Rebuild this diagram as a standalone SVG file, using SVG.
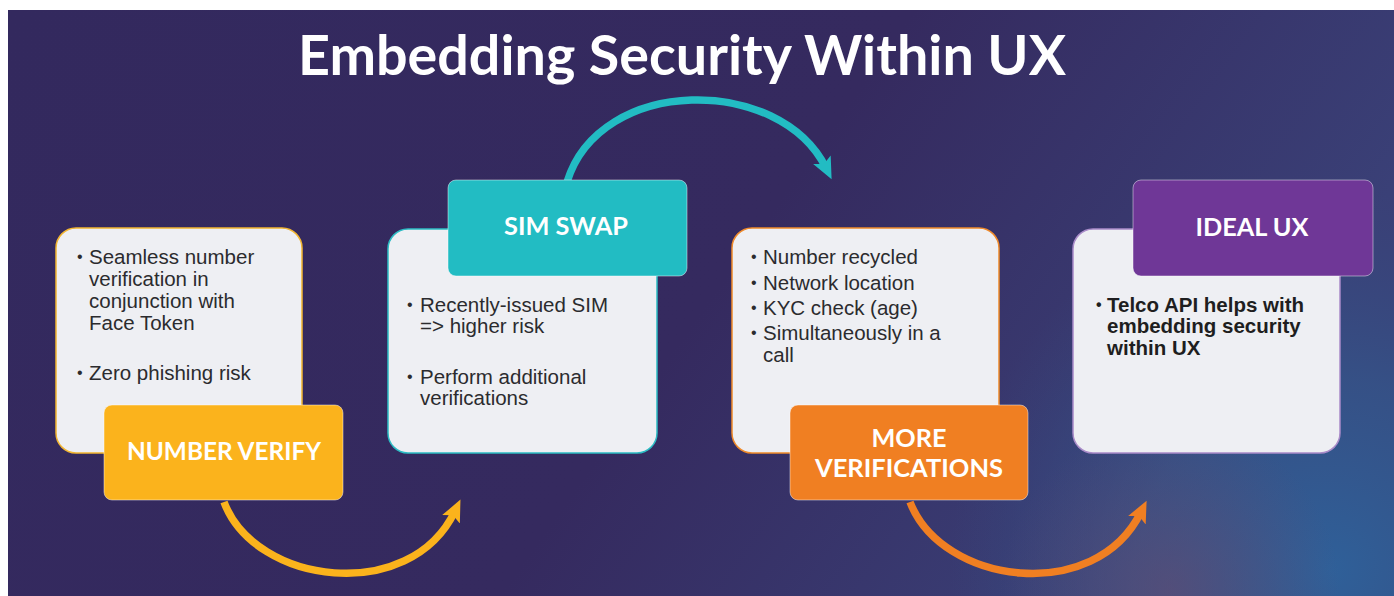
<svg xmlns="http://www.w3.org/2000/svg" width="1394" height="596" viewBox="0 0 1394 596">
  <defs>
    <linearGradient id="bg" x1="0" y1="0" x2="1" y2="0.3">
      <stop offset="0" stop-color="#33295e"/>
      <stop offset="0.6" stop-color="#352a5f"/>
      <stop offset="1" stop-color="#3a4077"/>
    </linearGradient>
    <radialGradient id="glowBlue" cx="1330" cy="570" r="380" gradientUnits="userSpaceOnUse">
      <stop offset="0" stop-color="#2f6099" stop-opacity="1"/>
      <stop offset="0.5" stop-color="#34568b" stop-opacity="0.75"/>
      <stop offset="1" stop-color="#364a80" stop-opacity="0"/>
    </radialGradient>
    <radialGradient id="glowPink" cx="1170" cy="590" r="170" gradientUnits="userSpaceOnUse">
      <stop offset="0" stop-color="#6a4a6e" stop-opacity="0.55"/>
      <stop offset="1" stop-color="#6a4a6e" stop-opacity="0"/>
    </radialGradient>
    <marker id="ahY" viewBox="0 0 20 20" markerWidth="23" markerHeight="23" refX="8" refY="10" orient="auto" markerUnits="userSpaceOnUse">
      <path d="M0,1.5 L19,10 L0,18.5 L4,10 z" fill="#fbb31c"/>
    </marker>
    <marker id="ahT" viewBox="0 0 20 20" markerWidth="23" markerHeight="23" refX="8" refY="10" orient="auto" markerUnits="userSpaceOnUse">
      <path d="M0,1.5 L19,10 L0,18.5 L4,10 z" fill="#22bcc3"/>
    </marker>
    <marker id="ahO" viewBox="0 0 20 20" markerWidth="23" markerHeight="23" refX="8" refY="10" orient="auto" markerUnits="userSpaceOnUse">
      <path d="M0,1.5 L19,10 L0,18.5 L4,10 z" fill="#f07f22"/>
    </marker>
  </defs>
  <style>
    .card { fill: #eeeff3; stroke-width: 1.5; }
    .lbl { stroke: rgba(255,255,255,0.45); stroke-width: 1; }
    .body { font-family: "Liberation Sans", Arial, sans-serif; font-size: 20.5px; fill: #2b2b2e; }
    .bul { font-family: "Liberation Sans", Arial, sans-serif; font-size: 16px; fill: #2b2b2e; }
    .bold { font-weight: bold; fill: #1e1e20; }
    .ltxt { font-family: Lato, "Open Sans", sans-serif; font-weight: 700; font-size: 25px; fill: #ffffff; text-anchor: middle; }
    .title { font-family: Lato, "Open Sans", sans-serif; font-weight: 700; font-size: 56px; fill: #ffffff; }
    .conn { fill: none; stroke-width: 7.5; stroke-linecap: butt; }
  </style>

  <rect x="0" y="0" width="1394" height="596" fill="#ffffff"/>
  <rect x="8" y="10" width="1386" height="586" fill="url(#bg)"/>
  <rect x="8" y="10" width="1386" height="586" fill="url(#glowBlue)"/>
  <rect x="8" y="10" width="1386" height="586" fill="url(#glowPink)"/>

  <text class="title" x="298" y="75" textLength="768" lengthAdjust="spacingAndGlyphs">Embedding Security Within UX</text>

  <g id="connectors">
    <path class="conn" stroke="#fbb31c" d="M224,502 C255,585 410,605 455,511" marker-end="url(#ahY)"/>
    <path class="conn" stroke="#22bcc3" d="M567,182 C600,75 780,75 826,168" marker-end="url(#ahT)"/>
    <path class="conn" stroke="#f07f22" d="M910,502 C942,585 1095,605 1141,512" marker-end="url(#ahO)"/>
  </g>

  <g id="node-number-verify">
    <rect class="card" x="56" y="228" width="246" height="225" rx="20" stroke="#f2b531"/>
    <text class="bul" x="77" y="262">•</text>
    <text class="body" x="89" y="264">Seamless number</text>
    <text class="body" x="89" y="286">verification in</text>
    <text class="body" x="89" y="308">conjunction with</text>
    <text class="body" x="89" y="330">Face Token</text>
    <text class="bul" x="77" y="378">•</text>
    <text class="body" x="89" y="380">Zero phishing risk</text>
    <rect class="lbl" x="104" y="405" width="239" height="95" rx="8" fill="#fbb31c"/>
    <text class="ltxt" x="224" y="460" textLength="194" lengthAdjust="spacingAndGlyphs">NUMBER VERIFY</text>
  </g>

  <g id="node-sim-swap">
    <rect class="card" x="388" y="229" width="269" height="224" rx="20" stroke="#2bbcc4"/>
    <text class="bul" x="407" y="310">•</text>
    <text class="body" x="420" y="312">Recently-issued SIM</text>
    <text class="body" x="420" y="333">=&gt; higher risk</text>
    <text class="bul" x="407" y="382">•</text>
    <text class="body" x="420" y="384">Perform additional</text>
    <text class="body" x="420" y="405">verifications</text>
    <rect class="lbl" x="448" y="180" width="239" height="96" rx="8" fill="#22bcc3"/>
    <text class="ltxt" x="566" y="235" textLength="124" lengthAdjust="spacingAndGlyphs">SIM SWAP</text>
  </g>

  <g id="node-more-verifications">
    <rect class="card" x="732" y="228" width="267" height="225" rx="20" stroke="#f08a2a"/>
    <text class="bul" x="751" y="262">•</text>
    <text class="body" x="763" y="264">Number recycled</text>
    <text class="bul" x="751" y="288">•</text>
    <text class="body" x="763" y="290">Network location</text>
    <text class="bul" x="751" y="313">•</text>
    <text class="body" x="763" y="315">KYC check (age)</text>
    <text class="bul" x="751" y="338">•</text>
    <text class="body" x="763" y="340">Simultaneously in a</text>
    <text class="body" x="763" y="362">call</text>
    <rect class="lbl" x="790" y="405" width="238" height="95" rx="8" fill="#f07f22"/>
    <text class="ltxt" x="909" y="447" textLength="75" lengthAdjust="spacingAndGlyphs">MORE</text>
    <text class="ltxt" x="909" y="477" textLength="188" lengthAdjust="spacingAndGlyphs">VERIFICATIONS</text>
  </g>

  <g id="node-ideal-ux">
    <rect class="card" x="1073" y="229" width="267" height="224" rx="20" stroke="#a98bc9"/>
    <text class="bul bold" x="1096" y="310">•</text>
    <text class="body bold" x="1107" y="312">Telco API helps with</text>
    <text class="body bold" x="1107" y="333">embedding security</text>
    <text class="body bold" x="1107" y="355">within UX</text>
    <rect class="lbl" x="1133" y="180" width="240" height="96" rx="8" fill="#6f3797"/>
    <text class="ltxt" x="1252" y="236" textLength="113" lengthAdjust="spacingAndGlyphs">IDEAL UX</text>
  </g>
</svg>
